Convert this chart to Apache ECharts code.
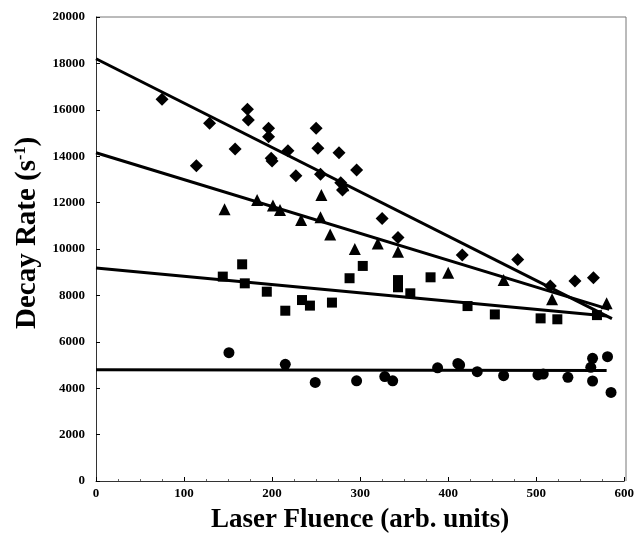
<!DOCTYPE html>
<html>
<head>
<meta charset="utf-8">
<script src="https://cdn.jsdelivr.net/npm/echarts@6/dist/echarts.min.js"></script>
<style>
  html, body { margin: 0; padding: 0; background: #fff; }
  #chart { width: 637px; height: 544px; }
</style>
</head>
<body>
<div id="chart"></div>
<script>
// valeurs : [fluence, taux]
const diamonds = [
  [75, 16450], [114, 13590], [129, 15420], [158, 14310], [172, 16020], [173, 15560],
  [196, 15200], [196, 14840], [199, 13910], [200, 13790], [218, 14240], [227, 13160],
  [250, 15200], [252, 14340], [255, 13220], [276, 14150], [278, 12860], [280, 12540],
  [296, 13400], [325, 11320], [343, 10500], [416, 9740], [479, 9550], [516, 8400],
  [544, 8620], [565, 8760]
];
const triangles = [
  [146, 11710], [183, 12110], [201, 11870], [209, 11680], [233, 11250], [256, 12330],
  [255, 11370], [266, 10630], [281, 12750], [294, 10000], [320, 10240], [343, 9880],
  [400, 8980], [463, 8660], [518, 7830], [580, 7660]
];
const squares = [
  [144, 8810], [166, 9340], [169, 8520], [194, 8160], [215, 7340], [234, 7800],
  [243, 7560], [268, 7690], [288, 8740], [303, 9270], [343, 8660], [343, 8350],
  [357, 8090], [380, 8780], [422, 7540], [453, 7180], [505, 7010], [524, 6970],
  [569, 7150]
];
const circles = [
  [151, 5530], [215, 5030], [249, 4250], [296, 4320], [328, 4500], [337, 4320],
  [388, 4880], [411, 5070], [413, 5000], [433, 4710], [463, 4540], [502, 4570],
  [508, 4610], [536, 4470], [564, 5290], [562, 4900], [564, 4310], [581, 5360],
  [585, 3820]
];

// droites d'ajustement (extrémités)
const fitDiamonds = [[0, 18200], [586, 7000]];
const fitTriangles = [[0, 14150], [583, 7400]];
const fitSquares = [[0, 9180], [580, 7110]];
const fitCircles = [[0, 4800], [580, 4760]];

const xTicks = { min: 0, max: 600, interval: 100 };
const yTicks = { min: 0, max: 20000, interval: 2000 };

const serif = 'Liberation Serif';

function scatter(data, symbol, size) {
  return {
    type: 'scatter',
    data: data,
    symbol: symbol,
    symbolSize: size,
    itemStyle: { color: '#000', opacity: 1 },
    z: 3
  };
}
function fit(data) {
  return {
    type: 'line',
    data: data,
    symbol: 'none',
    lineStyle: { color: '#000', width: 3 },
    z: 2
  };
}

const chart = echarts.init(document.getElementById('chart'), null, { renderer: 'canvas' });
chart.setOption({
  animation: false,
  backgroundColor: '#fff',
  grid: { left: 96, top: 17, right: 11, bottom: 63 },
  xAxis: {
    type: 'value',
    min: xTicks.min, max: xTicks.max, interval: xTicks.interval,
    name: 'Laser Fluence (arb. units)',
    nameLocation: 'middle',
    nameGap: 26,
    nameTextStyle: { fontFamily: serif, fontWeight: 'bold', fontSize: 27, color: '#000' },
    axisLine: { show: true, lineStyle: { color: '#333', width: 1 } },
    axisTick: { show: true, inside: true, length: 4, lineStyle: { color: '#000' } },
    minorTick: { show: true, splitNumber: 4, length: 2, lineStyle: { color: '#666' } },
    axisLabel: { fontFamily: serif, fontWeight: 'bold', fontSize: 13, color: '#000', margin: 6 },
    splitLine: { show: false }
  },
  yAxis: {
    type: 'value',
    min: yTicks.min, max: yTicks.max, interval: yTicks.interval,
    name: 'Decay Rate (s{sup|-1})',
    nameLocation: 'middle',
    nameGap: 54,
    nameTextStyle: {
      fontFamily: serif, fontWeight: 'bold', fontSize: 29, color: '#000',
      padding: [0, 0, 0, 32],
      rich: {
        sup: { fontFamily: serif, fontWeight: 'bold', fontSize: 16, color: '#000', verticalAlign: 'top', padding: [0, 0, 12, 0] }
      }
    },
    axisLine: { show: true, lineStyle: { color: '#333', width: 1 } },
    axisTick: { show: true, inside: true, length: 4, lineStyle: { color: '#000' } },
    axisLabel: {
      fontFamily: serif, fontWeight: 'bold', fontSize: 13, color: '#000', margin: 11,
      formatter: v => String(v)
    },
    splitLine: { show: false }
  },
  graphic: [{
    // cadre haut et droit
    type: 'polyline',
    shape: { points: [[96, 17], [626, 17], [626, 481]] },
    style: { stroke: '#777', lineWidth: 1, fill: null },
    silent: true
  }],
  series: [
    fit(fitDiamonds), fit(fitTriangles), fit(fitSquares), fit(fitCircles),
    scatter(diamonds, 'diamond', 13),
    scatter(triangles, 'triangle', 12),
    scatter(squares, 'rect', 10),
    scatter(circles, 'circle', 11)
  ]
});
</script>
</body>
</html>
